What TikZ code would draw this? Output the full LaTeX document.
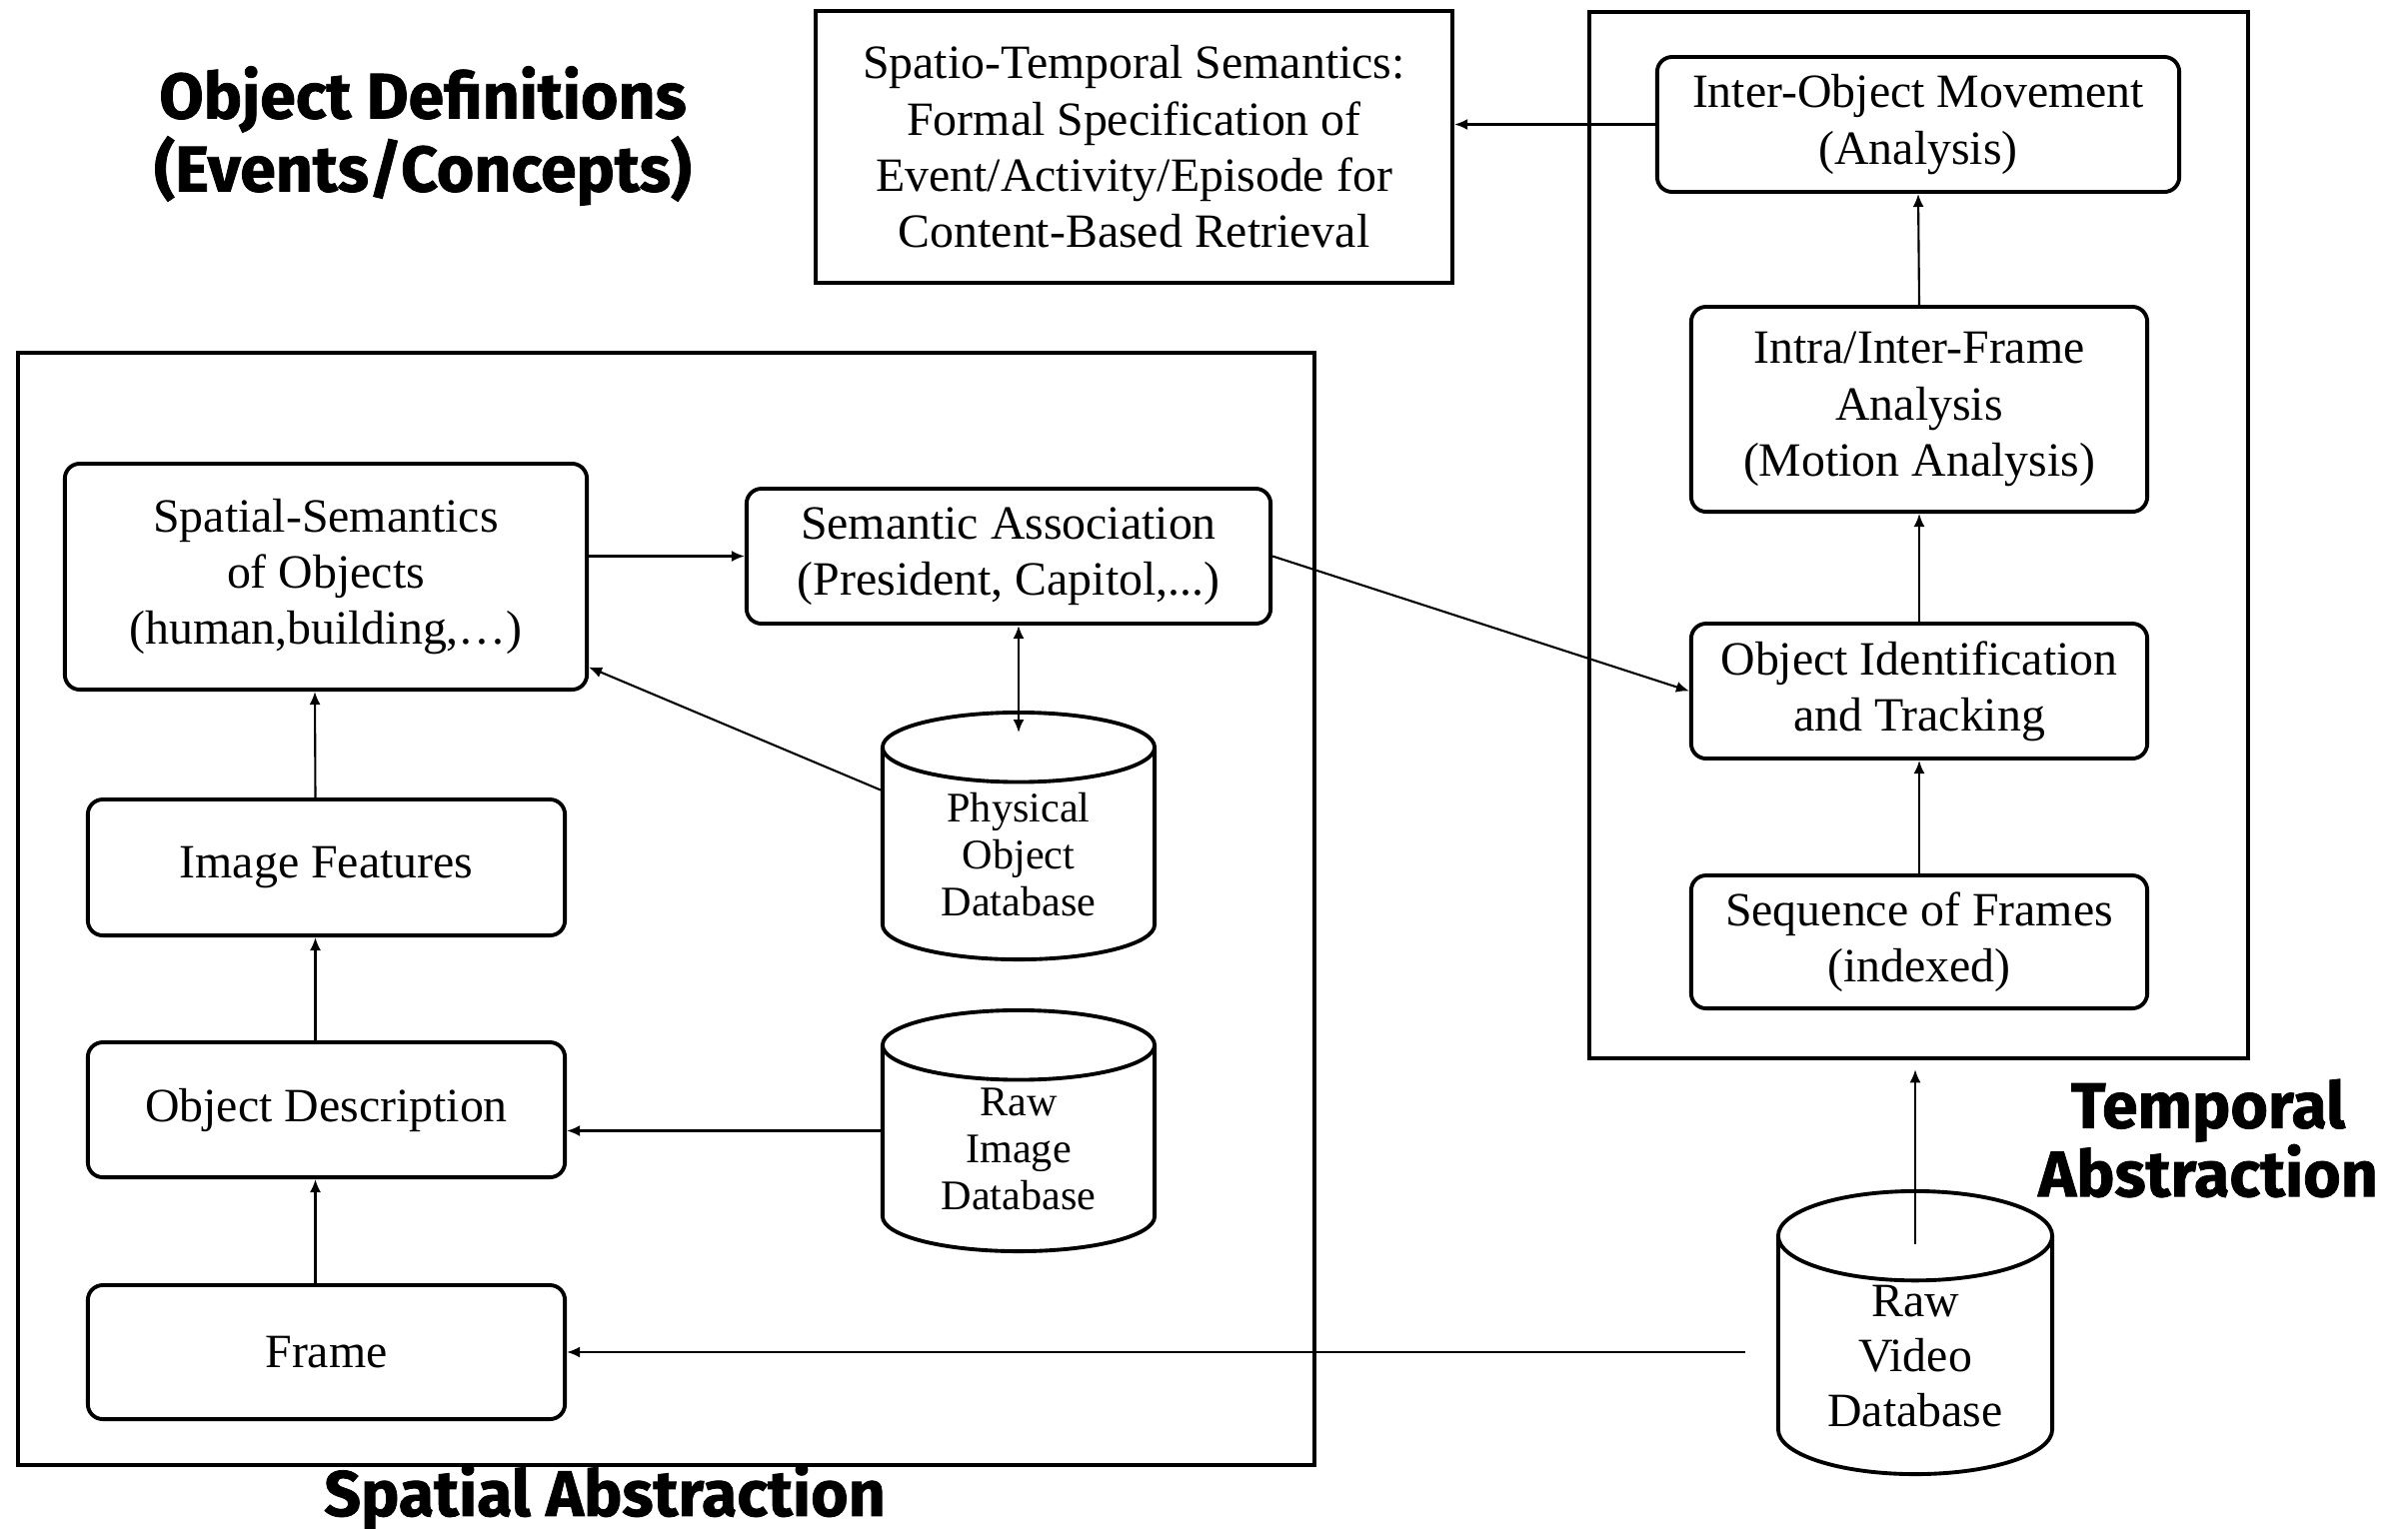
\documentclass[tikz,border=0pt]{standalone}
\usepackage{fontspec}
\setmainfont{Liberation Serif}
\newfontfamily\headfont{Fira Sans}[BoldFeatures={FakeBold=1.2}]
\usetikzlibrary{shapes.geometric,arrows.meta}

\begin{document}
\begin{tikzpicture}[x=0.01cm, y=-0.01cm,
  >={Latex[length=1.3mm,width=1.1mm]},
  stagebox/.style={draw, rounded corners=0.15cm, line width=1.1pt, align=center, inner sep=0pt, font=\fontsize{13.6}{16}\selectfont},
  framebox/.style={draw, line width=1.1pt, inner sep=0pt, align=center, font=\fontsize{13.6}{16}\selectfont},
  dbcyl/.style={draw, cylinder, shape border rotate=90, aspect=0.45, line width=1.1pt, align=center, inner sep=0pt, anchor=shape center, font=\fontsize{12}{13.4}\selectfont},
  flow/.style={->, line width=0.6pt},
  heading/.style={font={\headfont\bfseries\fontsize{18.3}{19.5}\selectfont}, align=center}]
\useasboundingbox (0,0) rectangle (2409,1529);

% headings
\node[heading] (objdefs) at (423,136) {Object Definitions\\(Events/Concepts)};
\node[heading] (spatialhead) at (605,1498) {Spatial Abstraction};
\node[heading] (temporalhead) at (2209,1139) {Temporal\\Abstraction};

% outer frames
\node[framebox, minimum width=12.97cm, minimum height=11.13cm] (spatialframe) at (666.5,909.5) {};
\node[framebox, minimum width=6.59cm, minimum height=10.47cm] (tempframe) at (1919.5,535.5) {};

\node[framebox, minimum width=6.37cm, minimum height=2.72cm] (spatio) at (1134.5,147) {Spatio-Temporal Semantics:\\Formal Specification of\\Event/Activity/Episode for\\Content-Based Retrieval};

% temporal side
\node[stagebox, minimum width=5.22cm, minimum height=1.35cm] (interobj) at (1919,124.5) {Inter-Object Movement\\(Analysis)};
\node[stagebox, minimum width=4.56cm, minimum height=2.05cm] (intra) at (1920,409.5) {Intra/Inter-Frame\\Analysis\\(Motion Analysis)};
\node[stagebox, minimum width=4.56cm, minimum height=1.35cm] (objident) at (1920,691.5) {Object Identification\\and Tracking};
\node[stagebox, minimum width=4.56cm, minimum height=1.33cm] (seqframes) at (1920,942.5) {Sequence of Frames\\(indexed)};
\node[dbcyl, aspect=0.51, minimum width=2.74cm, minimum height=2.83cm, font=\fontsize{13.6}{15.6}\selectfont] (rawvideo) at (1916,1333.5) {Raw\\Video\\Database};

% spatial side
\node[stagebox, minimum width=5.22cm, minimum height=2.26cm] (spatialsem) at (326,577) {Spatial-Semantics\\of Objects\\(human,building,…)};
\node[stagebox, minimum width=5.24cm, minimum height=1.35cm] (semassoc) at (1009,556.5) {Semantic Association\\(President, Capitol,...)};
\node[stagebox, minimum width=4.77cm, minimum height=1.36cm] (imgfeat) at (326.5,868) {Image Features};
\node[stagebox, minimum width=4.77cm, minimum height=1.35cm] (objdesc) at (326.5,1110.5) {Object Description};
\node[stagebox, minimum width=4.77cm, minimum height=1.34cm] (frame) at (326.5,1353) {Frame};
\node[dbcyl, minimum width=2.72cm, minimum height=2.47cm] (physical) at (1019,836.5) {Physical\\Object\\Database};
\node[dbcyl, minimum width=2.72cm, minimum height=2.41cm] (rawimage) at (1019,1131.5) {Raw\\Image\\Database};

% connectors
\draw[flow] (interobj.west) -- (interobj.west -| spatio.east);
\draw[flow] (intra.north) -- (interobj.south);
\draw[flow] (objident.north) -- (intra.south);
\draw[flow] (seqframes.north) -- (objident.south);
\coordinate (vidtap) at (1916,1245);
\draw[flow, shorten >=0.09cm] (vidtap) -- (vidtap |- tempframe.south);
\draw[flow, shorten <=0.31cm] (frame.east -| rawvideo.180) -- (frame.east);
\draw[flow] (spatialsem.east |- semassoc.west) -- (semassoc.west);
\draw[flow, <->] (semassoc.south -| physical.90) -- ([yshift=-0.22cm]physical.90);
\draw[flow] (semassoc.east) -- (objident.west);
\draw[flow] (physical.155) -- (spatialsem.-19);
\draw[flow] ([xshift=-0.11cm]imgfeat.north) -- ([xshift=-0.11cm]spatialsem.south);
\draw[flow] ([xshift=-0.11cm]objdesc.north) -- ([xshift=-0.11cm]imgfeat.south);
\draw[flow] ([xshift=-0.11cm]frame.north) -- ([xshift=-0.11cm]objdesc.south);
\draw[flow] (rawimage.shape center -| rawimage.180) -- (rawimage.shape center -| objdesc.east);
\end{tikzpicture}
\end{document}
